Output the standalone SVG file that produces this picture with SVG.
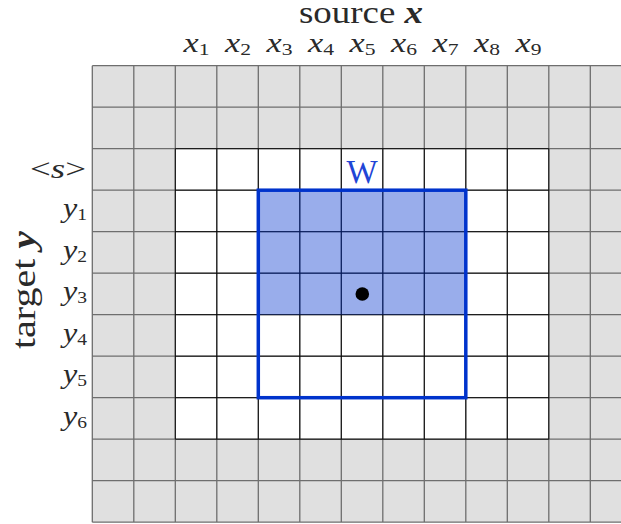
<svg xmlns="http://www.w3.org/2000/svg" width="621" height="524" viewBox="0 0 621 524">
<style>
text{font-family:"Liberation Serif","Times New Roman",serif;fill:#2a2a2a;}
.mi{font-style:italic;}
.sub{font-size:17px;font-style:normal;}
.gl{stroke:#6e6e6e;stroke-width:1.3;fill:none;}
.wl{stroke:#000;stroke-width:0.9;fill:none;}
</style>
<rect width="621" height="524" fill="#fff"/>
<g id="grid">
<rect x="92.3" y="65.7" width="540" height="456.5" fill="#e0e0e0"/>
<rect x="175.3" y="148.7" width="373.5" height="290.5" fill="#fff"/>
<path class="gl" d="M92.3 65.7V522.2M133.8 65.7V522.2M175.3 65.7V522.2M216.8 65.7V522.2M258.3 65.7V522.2M299.8 65.7V522.2M341.3 65.7V522.2M382.8 65.7V522.2M424.3 65.7V522.2M465.8 65.7V522.2M507.3 65.7V522.2M548.8 65.7V522.2M590.3 65.7V522.2M92.3 65.7H621M92.3 107.2H621M92.3 148.7H621M92.3 190.2H621M92.3 231.7H621M92.3 273.2H621M92.3 314.7H621M92.3 356.2H621M92.3 397.7H621M92.3 439.2H621M92.3 480.7H621M92.3 522.2H621"/>
<path class="wl" d="M175.3 148.7H548.8V439.2H175.3ZM216.8 148.7V439.2M258.3 148.7V439.2M299.8 148.7V439.2M341.3 148.7V439.2M382.8 148.7V439.2M424.3 148.7V439.2M465.8 148.7V439.2M507.3 148.7V439.2M175.3 190.2H548.8M175.3 231.7H548.8M175.3 273.2H548.8M175.3 314.7H548.8M175.3 356.2H548.8M175.3 397.7H548.8"/>
</g>
<g id="window">
<rect x="258.3" y="190.2" width="207.5" height="124.5" fill="#0033cc" fill-opacity="0.4"/>
<rect x="258.3" y="190.2" width="207.5" height="207.5" fill="none" stroke="#0033cc" stroke-width="3.5"/>
<text x="362" y="183" text-anchor="middle" font-size="33" style="fill:#1f45d6">W</text>
<circle cx="362.3" cy="294" r="6.8" fill="#000"/>
</g>
<g id="source-label">
<text x="361" y="23" text-anchor="middle" font-size="31" textLength="124" lengthAdjust="spacingAndGlyphs">source <tspan font-weight="bold" font-style="italic">x</tspan></text>
</g>
<g id="x-labels" font-size="27" text-anchor="middle">
<text x="196.6" y="52" textLength="26" lengthAdjust="spacingAndGlyphs"><tspan class="mi">x</tspan><tspan class="sub" dy="3">1</tspan></text>
<text x="238.1" y="52" textLength="26" lengthAdjust="spacingAndGlyphs"><tspan class="mi">x</tspan><tspan class="sub" dy="3">2</tspan></text>
<text x="279.6" y="52" textLength="26" lengthAdjust="spacingAndGlyphs"><tspan class="mi">x</tspan><tspan class="sub" dy="3">3</tspan></text>
<text x="321.1" y="52" textLength="26" lengthAdjust="spacingAndGlyphs"><tspan class="mi">x</tspan><tspan class="sub" dy="3">4</tspan></text>
<text x="362.6" y="52" textLength="26" lengthAdjust="spacingAndGlyphs"><tspan class="mi">x</tspan><tspan class="sub" dy="3">5</tspan></text>
<text x="404.1" y="52" textLength="26" lengthAdjust="spacingAndGlyphs"><tspan class="mi">x</tspan><tspan class="sub" dy="3">6</tspan></text>
<text x="445.6" y="52" textLength="26" lengthAdjust="spacingAndGlyphs"><tspan class="mi">x</tspan><tspan class="sub" dy="3">7</tspan></text>
<text x="487.1" y="52" textLength="26" lengthAdjust="spacingAndGlyphs"><tspan class="mi">x</tspan><tspan class="sub" dy="3">8</tspan></text>
<text x="528.6" y="52" textLength="26" lengthAdjust="spacingAndGlyphs"><tspan class="mi">x</tspan><tspan class="sub" dy="3">9</tspan></text>
</g>
<g id="y-labels" font-size="28" text-anchor="end">
<text x="86" y="178" textLength="56" lengthAdjust="spacingAndGlyphs">&lt;<tspan class="mi">s</tspan>&gt;</text>
<text x="87" y="217" textLength="24" lengthAdjust="spacingAndGlyphs"><tspan class="mi">y</tspan><tspan class="sub" dy="3">1</tspan></text>
<text x="87" y="258.5" textLength="24" lengthAdjust="spacingAndGlyphs"><tspan class="mi">y</tspan><tspan class="sub" dy="3">2</tspan></text>
<text x="87" y="300" textLength="24" lengthAdjust="spacingAndGlyphs"><tspan class="mi">y</tspan><tspan class="sub" dy="3">3</tspan></text>
<text x="87" y="341.5" textLength="24" lengthAdjust="spacingAndGlyphs"><tspan class="mi">y</tspan><tspan class="sub" dy="3">4</tspan></text>
<text x="87" y="383" textLength="24" lengthAdjust="spacingAndGlyphs"><tspan class="mi">y</tspan><tspan class="sub" dy="3">5</tspan></text>
<text x="87" y="424.5" textLength="24" lengthAdjust="spacingAndGlyphs"><tspan class="mi">y</tspan><tspan class="sub" dy="3">6</tspan></text>
</g>
<g id="target-label">
<text x="0" y="0" transform="translate(35 290) rotate(-90)" text-anchor="middle" font-size="33" textLength="118" lengthAdjust="spacingAndGlyphs">target <tspan font-weight="bold" font-style="italic">y</tspan></text>
</g>
</svg>
